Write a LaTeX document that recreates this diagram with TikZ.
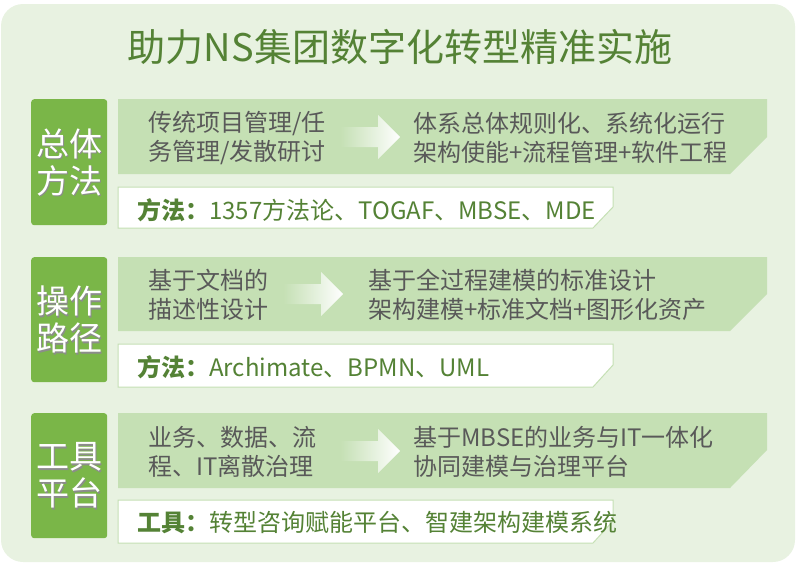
\documentclass[tikz,border=0pt]{standalone}
\usepackage{fontspec}
\setmainfont{Noto Sans CJK SC}
\usetikzlibrary{fadings}
\definecolor{bgc}{HTML}{E8F2E1}
\definecolor{labg}{HTML}{7AB648}
\definecolor{bandc}{HTML}{C5E0B4}
\definecolor{titc}{HTML}{548235}
\definecolor{graytxt}{HTML}{595959}
\definecolor{boxline}{HTML}{C5E0B4}
\tikzfading[name=arrowfade, left color=transparent!100, right color=transparent!0]
\begin{document}
\begin{tikzpicture}[x=1pt,y=-1pt,
 labelbox/.style={fill=labg, rounded corners=3pt, minimum width=76pt, minimum height=126pt, inner sep=0pt, anchor=north west},
 labeltxt/.style={text=white, font=\fontsize{33}{37}\selectfont, align=center, inner sep=0pt},
 labelshadow/.style={text=black!45, font=\fontsize{33}{37}\selectfont, align=center, inner sep=0pt},
 bandtxt/.style={text=graytxt, font=\fontsize{24}{29}\selectfont, align=left, anchor=west, inner sep=0pt},
 boxtxt/.style={text=titc, font=\fontsize{24}{29}\selectfont, anchor=west, inner sep=0pt},
 band/.style={fill=bandc},
 whitebox/.style={fill=white, draw=boxline, line width=1pt},
 fadearrow/.style={fill=white, path fading=arrowfade},
]
\useasboundingbox (0,0) rectangle (797,568);
\fill[bgc, rounded corners=22pt] (1,4) rectangle (795,562);

\node[text=titc, font=\fontsize{38}{44}\selectfont, inner sep=0pt] (title) at (400,47) {助力NS集团数字化转型精准实施};

% ---------- row 1 ----------
\fill[band] (118,99) -- (767,99) -- (767,137) -- (730,174) -- (118,174) -- cycle;
\coordinate (a1) at (340,137);
\fill[fadearrow] ([yshift=10pt]a1) -- ++(38,0) -- ++(0,-12) -- ++(22,22) -- ++(-22,22) -- ++(0,-12) -- ++(-38,0) -- cycle;
\node[bandtxt] (l1) at (148,138) {传统项目管理/任\\务管理/发散研讨};
\node[bandtxt] (r1) at (413,138) {体系总体规则化、系统化运行\\架构使能+流程管理+软件工程};
\draw[whitebox] (118,187) -- (613,187) -- (613,207) -- (593,228) -- (118,228) -- cycle;
\node[boxtxt] (m1) at (137,210) {\textbf{方法：}1357方法论、TOGAF、MBSE、MDE};
\node[labelbox] (lab1) at (31,99) {};
\node[labelshadow] at ([shift={(1.5,1.5)}]lab1.center) {总体\\方法};
\node[labeltxt] (lab1t) at (lab1.center) {总体\\方法};

% ---------- row 2 ----------
\fill[band] (118,257) -- (767,257) -- (767,294) -- (730,331) -- (118,331) -- cycle;
\coordinate (a2) at (283,294);
\fill[fadearrow] ([yshift=10pt]a2) -- ++(38,0) -- ++(0,-12) -- ++(22,22) -- ++(-22,22) -- ++(0,-12) -- ++(-38,0) -- cycle;
\node[bandtxt] (l2) at (148,295) {基于文档的\\描述性设计};
\node[bandtxt] (r2) at (368,295) {基于全过程建模的标准设计\\架构建模+标准文档+图形化资产};
\draw[whitebox] (118,344) -- (613,344) -- (613,365) -- (593,387) -- (118,387) -- cycle;
\node[boxtxt] (m2) at (137,367) {\textbf{方法：}Archimate、BPMN、UML};
\node[labelbox, minimum height=125pt] (lab2) at (31,257) {};
\node[labelshadow] at ([shift={(1.5,1.5)}]lab2.center) {操作\\路径};
\node[labeltxt] (lab2t) at (lab2.center) {操作\\路径};

% ---------- row 3 ----------
\fill[band] (118,413) -- (767,413) -- (767,450) -- (730,488) -- (118,488) -- cycle;
\coordinate (a3) at (340,451);
\fill[fadearrow] ([yshift=10pt]a3) -- ++(38,0) -- ++(0,-12) -- ++(22,22) -- ++(-22,22) -- ++(0,-12) -- ++(-38,0) -- cycle;
\node[bandtxt] (l3) at (148,452) {业务、数据、流\\程、IT离散治理};
\node[bandtxt] (r3) at (413,452) {基于MBSE的业务与IT一体化\\协同建模与治理平台};
\draw[whitebox] (118,500) -- (613,500) -- (613,521) -- (593,543) -- (118,543) -- cycle;
\node[boxtxt] (m3) at (137,523) {\textbf{工具：}转型咨询赋能平台、智建架构建模系统};
\node[labelbox, minimum height=125pt] (lab3) at (31,413) {};
\node[labelshadow] at ([shift={(1.5,1.5)}]lab3.center) {工具\\平台};
\node[labeltxt] (lab3t) at (lab3.center) {工具\\平台};
\end{tikzpicture}
\end{document}
